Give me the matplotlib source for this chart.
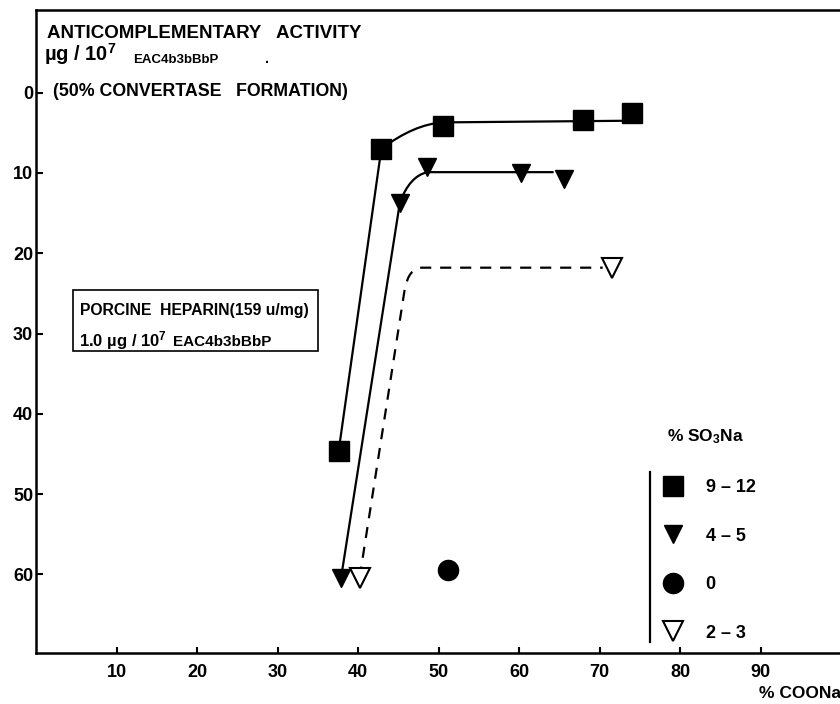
import matplotlib
matplotlib.use("Agg")
import matplotlib.pyplot as plt
from matplotlib.path import Path
from matplotlib.patches import PathPatch, Rectangle
from matplotlib.lines import Line2D

plt.rcParams['font.family'] = ['Liberation Sans', 'DejaVu Sans']
plt.rcParams['mathtext.default'] = 'regular'

# ---- data ----
sq_x = [37.6, 42.9, 50.6, 67.9, 74.0]          # % SO3Na 9-12
sq_y = [44.6, 7.0, 4.1, 3.4, 2.5]
tri_x = [37.9, 45.2, 48.6, 60.2, 65.6]         # % SO3Na 4-5
tri_y = [60.4, 13.7, 9.3, 10.0, 10.8]
circ_x = [51.2]                                 # % SO3Na 0
circ_y = [59.4]
open_x = [40.2, 71.6]                           # % SO3Na 2-3
open_y = [60.4, 21.8]

# hand-drawn fitted curves (vertices: start, corner, bezier control, bezier end, line end)
sq_fit_x = [37.6, 42.9, 47.0, 50.6, 73.0]
sq_fit_y = [44.6, 7.0, 3.9, 3.7, 3.5]
tri_fit_x = [37.9, 45.2, 46.4, 48.6, 64.3]
tri_fit_y = [60.4, 13.7, 10.4, 9.9, 9.9]
open_fit_x = [40.2, 45.8, 46.3, 48.0, 70.4]
open_fit_y = [60.4, 24.5, 21.8, 21.8, 21.8]

xticks = [10, 20, 30, 40, 50, 60, 70, 80, 90]
yticks = [0, 10, 20, 30, 40, 50, 60]
legend_labels = ['9 \u2013 12', '4 \u2013 5', '0', '2 \u2013 3']

W, H = 840, 704
fig = plt.figure(figsize=(W / 100, H / 100), dpi=100)
ax = fig.add_axes([36 / W, 1 - 653 / H, (841 - 36) / W, (653 - 10) / H])
ax.set_xlim(0, 100)
ax.set_ylim(69.8, -10.3)

for s in ['left', 'top', 'bottom']:
    ax.spines[s].set_linewidth(1.8)
ax.spines['right'].set_visible(False)

ax.set_xticks(xticks)
ax.set_yticks(yticks)
ax.tick_params(axis='x', direction='in', length=4, width=1.5, pad=8, labelsize=13)
ax.tick_params(axis='y', direction='in', length=5, width=1.5, pad=2, labelsize=13)
for lab in ax.get_xticklabels() + ax.get_yticklabels():
    lab.set_fontweight('bold')

codes = [Path.MOVETO, Path.LINETO, Path.CURVE3, Path.CURVE3, Path.LINETO]
ax.add_patch(PathPatch(Path(list(zip(sq_fit_x, sq_fit_y)), codes), fill=False, lw=1.6, ec='black'))
ax.add_patch(PathPatch(Path(list(zip(tri_fit_x, tri_fit_y)), codes), fill=False, lw=1.6, ec='black'))
ax.add_patch(PathPatch(Path(list(zip(open_fit_x, open_fit_y)), codes), fill=False, lw=1.6, ec='black',
                       linestyle=(0, (5, 4))))

h_sq, = ax.plot(sq_x, sq_y, 's', ms=14.5, color='black', zorder=3)
h_tri, = ax.plot(tri_x, tri_y, 'v', ms=13.5, color='black', zorder=3)
h_circ, = ax.plot(circ_x, circ_y, 'o', ms=14.5, color='black', zorder=3)
h_open, = ax.plot(open_x, open_y, 'v', ms=14, mfc='white', mec='black', mew=1.5, zorder=3)

leg = ax.legend([h_sq, h_tri, h_circ, h_open], legend_labels, loc='upper left',
                bbox_to_anchor=((655 - 36) / 805, (653 - 479) / 643),
                frameon=False, numpoints=1, borderaxespad=0, borderpad=0,
                labelspacing=1.75, handlelength=2.0, handletextpad=0.8,
                prop={'weight': 'bold', 'size': 13})

def fx(px):
    return px / W

def fy(py):
    return 1 - py / H

fig.text(fx(667), fy(437), '% SO$_3$Na', fontsize=12.5, fontweight='bold', va='center', ha='left')
fig.add_artist(Line2D([fx(650), fx(650)], [fy(472), fy(642)], color='black', lw=1.6))

fig.text(fx(841), fy(693), '% COONa', fontsize=12.5, fontweight='bold', va='center', ha='right')

# header text
fig.text(fx(47), fy(33), 'ANTICOMPLEMENTARY   ACTIVITY', fontsize=13.5, fontweight='bold',
         va='center', ha='left')
fig.text(fx(44), fy(61), '\u00b5g / 10$^7$', fontsize=14.5, fontweight='bold', va='baseline', ha='left')
fig.text(fx(133), fy(63), 'EAC4b3bBbP', fontsize=9.5, fontweight='bold', va='baseline', ha='left')
fig.text(fx(265), fy(63), '.', fontsize=10, fontweight='bold', va='baseline', ha='left')
fig.text(fx(53), fy(91), '(50% CONVERTASE   FORMATION)', fontsize=12.8, fontweight='bold',
         va='center', ha='left')

# box
fig.add_artist(Rectangle((fx(73), fy(351)), (318 - 73) / W, (351 - 290) / H,
                         transform=fig.transFigure, fill=False, lw=1.2, ec='black'))
fig.text(fx(80), fy(310), 'PORCINE  HEPARIN(159 u/mg)', fontsize=11.3, fontweight='bold',
         va='center', ha='left')
fig.text(fx(79), fy(346), '1.0 \u00b5g / 10$^7$', fontsize=12, fontweight='bold', va='baseline', ha='left')
fig.text(fx(173), fy(346), 'EAC4b3bBbP', fontsize=11, fontweight='bold', va='baseline', ha='left')

fig.savefig('out.png', dpi=100)
